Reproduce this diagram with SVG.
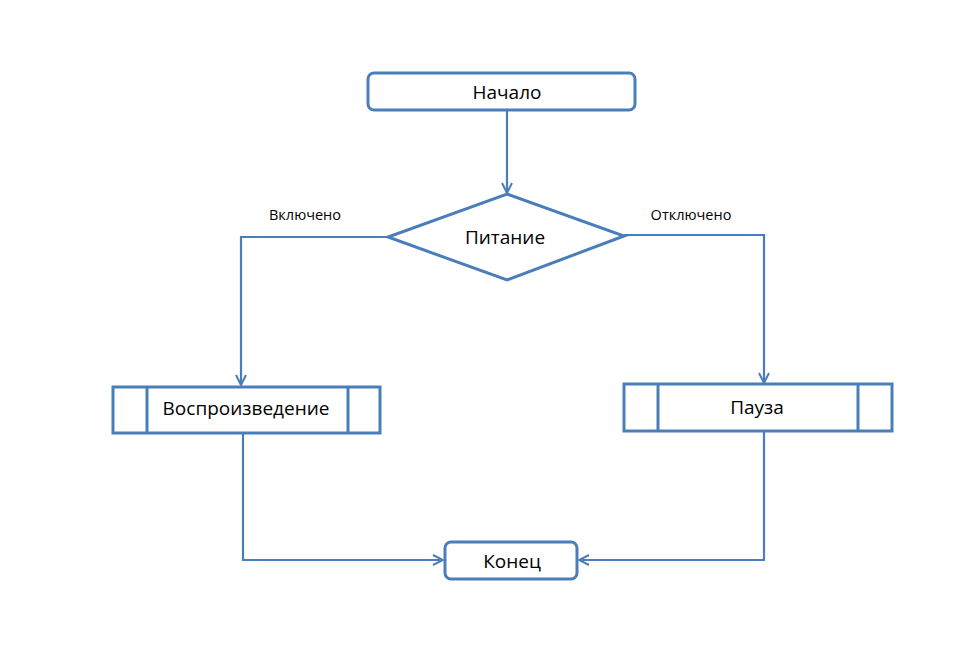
<svg xmlns="http://www.w3.org/2000/svg" width="960" height="656" viewBox="0 0 960 656">
<defs>
<marker id="arr" viewBox="0 0 12 12" refX="11" refY="6" markerWidth="12" markerHeight="12" markerUnits="userSpaceOnUse" orient="auto">
<path d="M1,1 L11,6 L1,11" fill="none" stroke="#4a7ebb" stroke-width="2"/>
</marker>
<style>
.shape{fill:#fff;stroke:#4a7ebb;stroke-width:3}
.line{fill:none;stroke:#4a7ebb;stroke-width:2.2}
.t{font-family:"Open Sans","Noto Sans",sans-serif;font-size:19px;fill:#000;text-anchor:middle}
.s{font-family:"Open Sans","Noto Sans",sans-serif;font-size:14.5px;fill:#000;text-anchor:middle}
</style>
</defs>
<rect width="960" height="656" fill="#fff"/>
<g id="connectors">
<path class="line" d="M507,111 V193" marker-end="url(#arr)"/>
<path class="line" d="M388,237 H241 V385" marker-end="url(#arr)"/>
<path class="line" d="M624,235 H764 V383" marker-end="url(#arr)"/>
<path class="line" d="M243,433 V560 H443" marker-end="url(#arr)"/>
<path class="line" d="M764,431 V560 H579" marker-end="url(#arr)"/>
<text class="s" x="305" y="220">Включено</text>
<text class="s" x="691" y="220">Отключено</text>
</g>
<g id="start">
<rect class="shape" x="368" y="73" width="267" height="37" rx="6"/>
<text class="t" x="507" y="99">Начало</text>
</g>
<g id="power">
<polygon class="shape" points="507,194 624,236 507,280 388,237"/>
<text class="t" x="505" y="244">Питание</text>
</g>
<g id="play">
<rect class="shape" x="113" y="387" width="267" height="46"/>
<line class="shape" x1="147" y1="387" x2="147" y2="433"/>
<line class="shape" x1="348" y1="387" x2="348" y2="433"/>
<text class="t" x="246" y="415">Воспроизведение</text>
</g>
<g id="pause">
<rect class="shape" x="624" y="384" width="268" height="47"/>
<line class="shape" x1="658" y1="384" x2="658" y2="431"/>
<line class="shape" x1="858" y1="384" x2="858" y2="431"/>
<text class="t" x="757" y="414">Пауза</text>
</g>
<g id="end">
<rect class="shape" x="445" y="542" width="132" height="37" rx="6"/>
<text class="t" x="512" y="568">Конец</text>
</g>
</svg>
